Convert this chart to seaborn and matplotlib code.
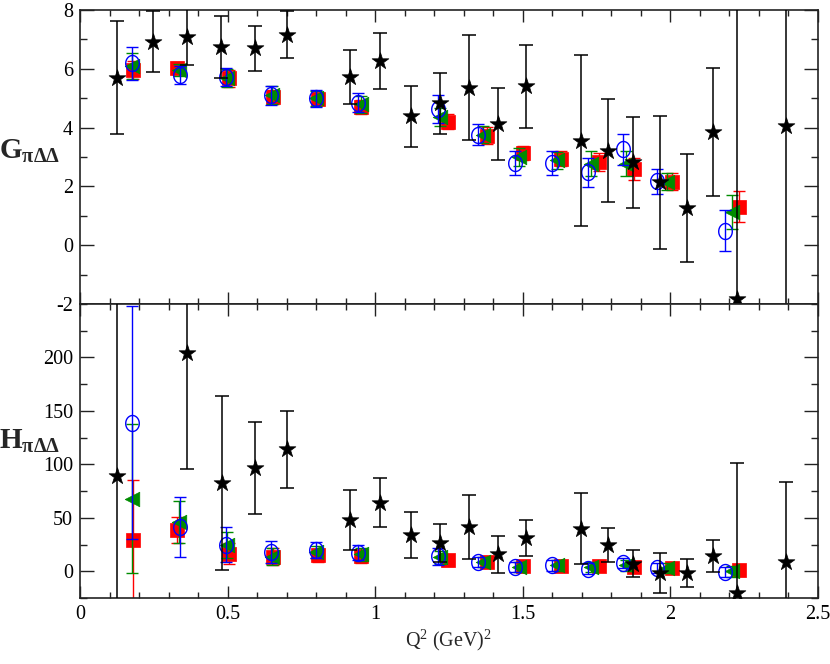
import numpy as np
import matplotlib
matplotlib.use('Agg')
import matplotlib.pyplot as plt
from matplotlib.path import Path
from matplotlib.ticker import MultipleLocator, FormatStrFormatter
import seaborn as sns

# black stars
star_g_q = [0.126, 0.248, 0.363, 0.479, 0.592, 0.701, 0.913, 1.017, 1.120, 1.218, 1.317,
            1.415, 1.511, 1.697, 1.787, 1.875, 1.966, 2.055, 2.143, 2.225, 2.393]
star_g = [5.70, 6.92, 7.09, 6.75, 6.69, 7.15, 5.72, 6.27, 4.38, 4.82, 5.36,
          4.13, 5.41, 3.56, 3.22, 2.82, 2.14, 1.27, 3.85, -1.84, 4.04]
star_g_err = [1.93, 1.03, 0.97, 1.05, 0.78, 0.80, 0.93, 0.95, 1.03, 1.03, 1.79,
              1.23, 1.41, 2.90, 1.74, 1.55, 2.27, 1.83, 2.17, 10.5, 12.0]
star_h_q = [0.126, 0.363, 0.481, 0.592, 0.701, 0.913, 1.017, 1.120, 1.218, 1.317,
            1.415, 1.511, 1.697, 1.787, 1.875, 1.966, 2.055, 2.143, 2.225, 2.393]
star_h = [89, 204, 82.5, 96.5, 114, 47.7, 64.2, 33.6, 26.4, 41.4,
          15.9, 31.1, 39.9, 24.3, 7.2, -1.6, -1.6, 14.3, -20.3, 8.7]
star_h_err = [180, 108, 81, 43, 36, 28, 23, 21.6, 18, 30,
              17.5, 16.5, 33, 16, 12.6, 19, 13.5, 15, 122, 75]

# blue open circles
circ_q = [0.175, 0.338, 0.496, 0.648, 0.798, 0.942, 1.212, 1.347, 1.474, 1.599, 1.720, 1.840, 1.956, 2.185]
circ_g = [6.18, 5.78, 5.72, 5.10, 4.99, 4.85, 4.64, 3.76, 2.80, 2.80, 2.48, 3.26, 2.17, 0.49]
circ_g_err = [0.55, 0.30, 0.32, 0.33, 0.28, 0.33, 0.48, 0.36, 0.40, 0.40, 0.50, 0.52, 0.42, 0.70]
circ_h = [139, 41.4, 25, 18, 19.6, 17.5, 14, 8.7, 4, 5.6, 2.5, 7.8, 3.1, -0.6]
circ_h_err = [109, 28, 16.6, 10.5, 7.6, 7, 8, 5, 5, 5, 5, 5, 5, 5]

# green left triangles
tri_q = [0.175, 0.335, 0.498, 0.652, 0.800, 0.953, 1.218, 1.364, 1.488, 1.615, 1.731, 1.849, 1.990, 2.210]
tri_g = [6.10, 5.95, 5.68, 5.10, 4.99, 4.79, 4.35, 3.76, 3.00, 2.88, 2.77, 2.77, 2.16, 1.12]
tri_g_err = [0.45, 0.20, 0.30, 0.30, 0.25, 0.30, 0.30, 0.30, 0.30, 0.30, 0.43, 0.43, 0.30, 0.57]
tri_h = [68, 46, 24.3, 13.5, 18, 16, 13, 8.7, 4, 5.6, 4, 5.6, 3, 0]
tri_h_err = [70, 19.5, 12, 8, 6, 6, 6, 5, 5, 5, 5, 5, 5, 5]

# red squares
sq_q = [0.178, 0.330, 0.505, 0.654, 0.806, 0.953, 1.245, 1.379, 1.500, 1.629, 1.759, 1.877, 2.007, 2.233]
sq_g = [5.95, 6.02, 5.67, 5.04, 4.96, 4.70, 4.20, 3.73, 3.14, 2.94, 2.82, 2.60, 2.16, 1.31]
sq_g_err = [0.30, 0.20, 0.30, 0.25, 0.20, 0.25, 0.25, 0.30, 0.25, 0.25, 0.30, 0.38, 0.30, 0.52]
sq_h = [29, 38.3, 16.5, 13.4, 15, 14, 10.3, 8.7, 5, 5, 5, 4, 3.1, 1]
sq_h_err = [56, 12, 10, 8, 6, 6, 5, 5, 5, 5, 5, 5, 5, 5]

sns.set_theme(style='ticks')
plt.rcParams['font.family'] = ['Liberation Serif', 'DejaVu Serif']
plt.rcParams['mathtext.fontset'] = 'custom'
plt.rcParams['mathtext.rm'] = 'Liberation Serif'
plt.rcParams['mathtext.it'] = 'Liberation Serif:italic'
plt.rcParams['mathtext.bf'] = 'Liberation Serif:bold'
plt.rcParams['axes.unicode_minus'] = False

GREEN = '#008c00'

# tall ellipse marker for the open circles
t = np.linspace(0, 2 * np.pi, 60)
ellipse = Path(np.column_stack([0.85 * np.cos(t), np.sin(t)]), closed=True)

fig = plt.figure(figsize=(8.3, 6.64), dpi=100)
gs = fig.add_gridspec(2, 1, left=0.0964, right=0.9855, top=0.985, bottom=0.0994, hspace=0)
ax1 = fig.add_subplot(gs[0])
ax2 = fig.add_subplot(gs[1], sharex=ax1)


def draw(ax, q, v, err, color, marker, s, z, cap=4.5, lw=1.0):
    ax.errorbar(q, v, yerr=err, fmt='none', ecolor=color, elinewidth=lw,
                capsize=cap, capthick=lw, zorder=z)
    sns.scatterplot(x=q, y=v, ax=ax, marker=marker, s=s, color=color,
                    edgecolor=color, linewidth=0.5, zorder=z + 0.5, legend=False)


for ax, sets in [(ax1, [(sq_g, sq_g_err), (tri_g, tri_g_err), (circ_g, circ_g_err), (star_g_q, star_g, star_g_err)]),
                 (ax2, [(sq_h, sq_h_err), (tri_h, tri_h_err), (circ_h, circ_h_err), (star_h_q, star_h, star_h_err)])]:
    draw(ax, sq_q, sets[0][0], sets[0][1], 'red', 's', 95, 2)
    draw(ax, tri_q, sets[1][0], sets[1][1], GREEN, '<', 110, 3)
    ax.errorbar(circ_q, sets[2][0], yerr=sets[2][1], fmt='none', ecolor='blue',
                elinewidth=1.0, capsize=4.5, capthick=1.0, zorder=4)
    ax.plot(circ_q, sets[2][0], ls='none', marker=ellipse, ms=11.5, mfc='none',
            mec='blue', mew=1.0, zorder=4.5)
    draw(ax, sets[3][0], sets[3][1], sets[3][2], 'black', '*', 160, 5, cap=5, lw=1.1)

ax1.set_ylim(-2, 8)
ax1.yaxis.set_major_locator(MultipleLocator(2))
ax1.yaxis.set_minor_locator(MultipleLocator(1))
ax2.set_ylim(-25, 250)
ax2.set_yticks([0, 50, 100, 150, 200])
ax2.yaxis.set_minor_locator(MultipleLocator(25))
ax2.set_xlim(0, 2.5)
ax2.xaxis.set_major_locator(MultipleLocator(0.5))
ax2.xaxis.set_minor_locator(MultipleLocator(0.1))
ax2.xaxis.set_major_formatter(FormatStrFormatter('%g'))
ax1.tick_params(labelbottom=False)

for ax in (ax1, ax2):
    ax.tick_params(which='both', direction='in', top=True, right=True, width=1.0,
                   colors='#222222', labelcolor='black', labelsize=14.5, pad=5)
    ax.tick_params(axis='y', which='major', length=10)
    ax.tick_params(axis='y', which='minor', length=5)
    ax.tick_params(axis='x', which='major', length=8.5)
    ax.tick_params(axis='x', which='minor', length=4)
    for sp in ax.spines.values():
        sp.set_linewidth(1.2)
        sp.set_color('#222222')
    ax.set_ylabel('')
    ax.set_xlabel('')

ax2.set_xlabel(r'Q$^2$ (GeV)$^2$', fontsize=14.5, labelpad=3)
fig.text(0.036, 0.772, r'$\mathbf{G}_{\mathbf{\pi\Delta\Delta}}$', fontsize=21, ha='center', va='center')
fig.text(0.036, 0.335, r'$\mathbf{H}_{\mathbf{\pi\Delta\Delta}}$', fontsize=21, ha='center', va='center')

fig.savefig('out.png', dpi=100)
